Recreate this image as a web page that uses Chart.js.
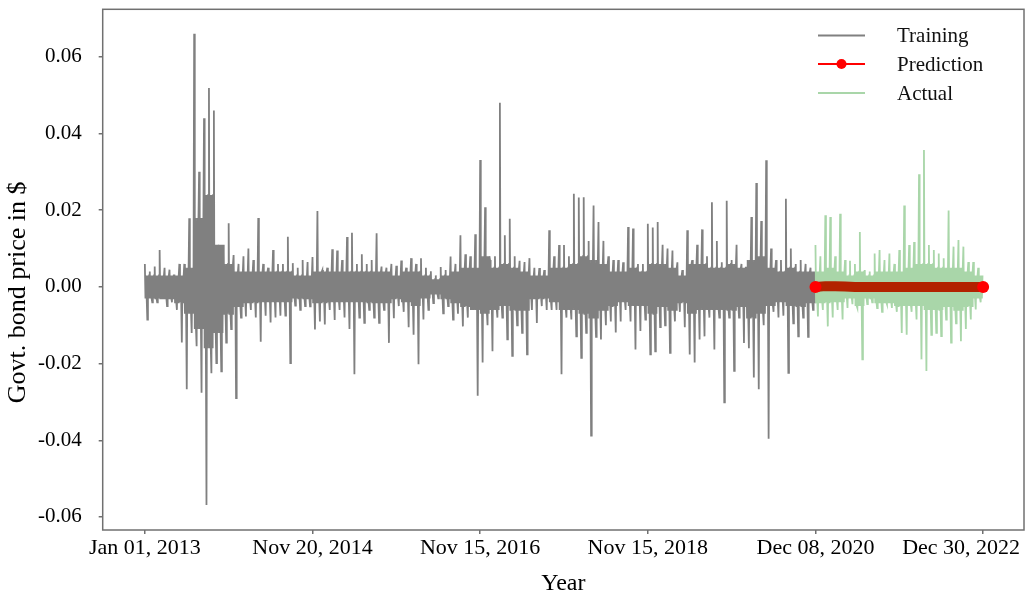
<!DOCTYPE html>
<html><head><meta charset="utf-8">
<script src="https://cdn.jsdelivr.net/npm/chart.js@4/dist/chart.umd.min.js"></script>
<style>html,body{margin:0;padding:0;background:#fff}#wrap{position:relative;width:1030px;height:599px}</style>
</head><body><div id="wrap"><canvas id="c"></canvas></div>
<script>
// ---- data ----
const xTickValues = [0, 500, 1000, 1500, 2000, 2500];
const xTickLabels = ["Jan 01, 2013", "Nov 20, 2014", "Nov 15, 2016", "Nov 15, 2018", "Dec 08, 2020", "Dec 30, 2022"];
const yTickValues = [-0.06, -0.04, -0.02, 0, 0.02, 0.04, 0.06];
const seriesNames = ["Training", "Prediction", "Actual"];

// upper / lower extent of the training series, column by column (Jan 2013 -> Dec 2020)
const trainHigh = [
 0.006,0.004, 0.0053,0.0096, 0.005,0.0045, 0.003,0.006, 0.006,0.0179, 0.066,0.030,
 0.044,0.0519, 0.046,0.0096, 0.009,0.0166, 0.0083,0.006, 0.008,0.010, 0.007,0.018,
 0.006,0.005, 0.0096,0.006, 0.006,0.0131, 0.0062,0.005, 0.007,0.0065, 0.0078,0.0198,
 0.0044,0.005, 0.0098,0.0095, 0.007,0.013, 0.0141,0.006, 0.0085,0.006, 0.007,0.014,
 0.0053,0.005, 0.006,0.0055, 0.0069,0.005, 0.0075,0.006, 0.0075,0.005, 0.0041,0.003,
 0.0052,0.0044, 0.0079,0.006, 0.0135,0.0085, 0.008,0.0137, 0.0331,0.0208, 0.007,0.008,
 0.048,0.0135, 0.0178,0.008, 0.0068,0.0065, 0.0075,0.005, 0.0049,0.0044, 0.0148,0.008,
 0.0109,0.0109, 0.008,0.0243, 0.0233,0.0234, 0.012,0.0212, 0.0169,0.012, 0.008,0.007,
 0.007,0.0064, 0.0156,0.0152, 0.006,0.006, 0.0165,0.0155, 0.0169,0.011, 0.010,0.0095,
 0.0064,0.0044, 0.0148,0.007, 0.011,0.015, 0.008,0.0221, 0.012,0.0064, 0.0225,0.007,
 0.011,0.006, 0.005,0.0182, 0.0271,0.0172, 0.033,0.010, 0.007,0.007, 0.023,0.010,
 0.006,0.007, 0.006,0.005
];
const trainLow = [
 -0.0085,-0.004, -0.004,-0.003, -0.005,-0.004, -0.006,-0.0145, -0.0267,-0.012, -0.0155,-0.0276,
 -0.0569,-0.0225, -0.0199,-0.022, -0.0145,-0.011, -0.029,-0.008, -0.0077,-0.006, -0.008,-0.0143,
 -0.0075,-0.0093, -0.008,-0.0075, -0.0075,-0.0199, -0.0049,-0.006, -0.005,-0.0051, -0.0111,-0.009,
 -0.0098,-0.006, -0.0086,-0.006, -0.008,-0.011, -0.0228,-0.008, -0.0094,-0.006, -0.008,-0.0094,
 -0.006,-0.0146, -0.0082,-0.005, -0.0065,-0.0105, -0.0125,-0.0202, -0.0085,-0.006, -0.0042,-0.003,
 -0.0069,-0.005, -0.0085,-0.007, -0.0103,-0.008, -0.006,-0.0284, -0.0197,-0.010, -0.0168,-0.008,
 -0.008,-0.0137, -0.018,-0.010, -0.012,-0.0176, -0.006,-0.0094, -0.005,-0.006, -0.006,-0.006,
 -0.0228,-0.008, -0.0085,-0.0129, -0.0185,-0.012, -0.0388,-0.013, -0.0137,-0.010, -0.009,-0.0119,
 -0.009,-0.006, -0.009,-0.0163, -0.0115,-0.0085, -0.0176,-0.0168, -0.0105,-0.010, -0.0172,-0.009,
 -0.0065,-0.0105, -0.0176,-0.0197, -0.0137,-0.0129, -0.008,-0.0163, -0.008,-0.0301, -0.008,-0.0219,
 -0.008,-0.0146, -0.016,-0.0236, -0.0267,-0.010, -0.0396,-0.0065, -0.008,-0.0075, -0.0224,-0.0095,
 -0.0129,-0.008, -0.013,-0.006
];
// upper / lower edge of the dense core of the training band, one value per pair of columns
const trainCoreUp = [
 0.003, 0.003, 0.003, 0.003, 0.005, 0.018, 0.024, 0.011, 0.006, 0.004,
 0.004, 0.004, 0.004, 0.004, 0.004, 0.003, 0.003, 0.004, 0.004, 0.004,
 0.004, 0.004, 0.004, 0.004, 0.004, 0.003, 0.004, 0.004, 0.003, 0.002,
 0.003, 0.004, 0.005, 0.005, 0.008, 0.005, 0.006, 0.005, 0.004, 0.003,
 0.003, 0.005, 0.005, 0.006, 0.008, 0.007, 0.006, 0.004, 0.004, 0.005,
 0.004, 0.006, 0.006, 0.005, 0.003, 0.006, 0.006, 0.005, 0.005, 0.006,
 0.005, 0.007, 0.008, 0.005, 0.004, 0.005, 0.004, 0.004
];
const trainCoreDown = [
 0.003, 0.003, 0.003, 0.004, 0.007, 0.011, 0.016, 0.012, 0.007, 0.005,
 0.004, 0.004, 0.004, 0.004, 0.004, 0.003, 0.003, 0.004, 0.004, 0.004,
 0.004, 0.004, 0.004, 0.004, 0.004, 0.003, 0.004, 0.005, 0.003, 0.002,
 0.003, 0.004, 0.005, 0.006, 0.007, 0.006, 0.005, 0.006, 0.006, 0.003,
 0.003, 0.004, 0.006, 0.006, 0.007, 0.008, 0.006, 0.005, 0.004, 0.005,
 0.005, 0.007, 0.005, 0.006, 0.004, 0.007, 0.006, 0.006, 0.006, 0.006,
 0.005, 0.008, 0.007, 0.005, 0.004, 0.005, 0.005, 0.004
];
// upper / lower extent of the actual (test) series (Dec 2020 -> Dec 2022)
const actualHigh = [
 0.0109,0.008, 0.0187,0.0182, 0.008,0.0191, 0.007,0.0068, 0.006,0.0143, 0.0044,0.004,
 0.0087,0.0096, 0.007,0.0087, 0.006,0.0096, 0.0212,0.0109, 0.0117,0.0294, 0.0357,0.0109,
 0.0096,0.0087, 0.0075,0.0199, 0.0105,0.0122, 0.0105,0.0065, 0.0065,0.005
];
const actualLow = [
 -0.0077,-0.006, -0.0103,-0.008, -0.006,-0.0085, -0.0055,-0.0045, -0.0055,-0.0189, -0.0045,-0.004,
 -0.0055,-0.0065, -0.0045,-0.0055, -0.0065,-0.012, -0.0125,-0.0065, -0.0085,-0.0189, -0.0219,-0.0125,
 -0.012,-0.0128, -0.0085,-0.0145, -0.0095,-0.0142, -0.011,-0.0085, -0.0059,-0.004
];
const actualCoreUp = [0.004, 0.005, 0.004, 0.003, 0.004, 0.003, 0.004, 0.004, 0.004,
                      0.005, 0.006, 0.006, 0.005, 0.005, 0.005, 0.004, 0.003];
const actualCoreDown = [0.004, 0.004, 0.004, 0.003, 0.005, 0.003, 0.004, 0.004, 0.005,
                        0.005, 0.005, 0.006, 0.006, 0.005, 0.006, 0.005, 0.003];
// model prediction over the test period
const prediction = [0.0000, 0.0002, 0.0002, 0.0001, 0.0000, 0.0000, 0.0000, 0.0000, 0.0000,
                    0.0000, 0.0000, 0.0000, 0.0000, 0.0000, 0.0000, 0.0000, 0.0000, 0.0000];
const trainStart = 0, trainEnd = 2000, testEnd = 2500;

// ---- build library tables ----
function band(high, low, coreUp, coreDown, x0, x1) {
  const step = (x1 - x0) / high.length, per = high.length / coreUp.length, pts = [];
  for (let i = 0; i < high.length; i++) {
    const r = Math.floor(i / per), u = coreUp[r], d = -coreDown[r], x = x0 + i * step;
    const seq = [high[i], d, u, d, low[i], u, d, u];
    seq.forEach((y, j) => pts.push({x: x + step * j / seq.length, y: y}));
  }
  return pts;
}
const trainPts = band(trainHigh, trainLow, trainCoreUp, trainCoreDown, trainStart, trainEnd);
const actualPts = band(actualHigh, actualLow, actualCoreUp, actualCoreDown, trainEnd, testEnd);
const predPts = prediction.map((v, i) => ({x: trainEnd + i * (testEnd - trainEnd) / (prediction.length - 1), y: v}));

const FONT = "'Liberation Serif', 'Times New Roman', serif";
const COL_TRAIN = '#808080', COL_PRED = '#b22200', COL_PRED_PT = '#ff0000', COL_ACT = '#a9d6a9';
const NB = '\u00a0';

const framePlugin = {
  id: 'frame',
  afterDraw(chart) {
    const {ctx, chartArea: a} = chart;
    ctx.save();
    ctx.strokeStyle = '#707070'; ctx.lineWidth = 1.5;
    ctx.strokeRect(a.left, a.top, a.right - a.left, a.bottom - a.top);
    // legend
    const rows = [
      {label: seriesNames[0], color: COL_TRAIN, y: 35.5, dot: false},
      {label: seriesNames[1], color: COL_PRED_PT, y: 64, dot: true},
      {label: seriesNames[2], color: COL_ACT, y: 93, dot: false}
    ];
    ctx.font = "21px " + FONT;
    ctx.textBaseline = 'middle'; ctx.textAlign = 'left';
    rows.forEach(r => {
      ctx.strokeStyle = r.color; ctx.lineWidth = 2;
      ctx.beginPath(); ctx.moveTo(818, r.y); ctx.lineTo(865, r.y); ctx.stroke();
      if (r.dot) { ctx.fillStyle = r.color; ctx.beginPath(); ctx.arc(841.5, r.y, 5, 0, Math.PI * 2); ctx.fill(); }
      ctx.fillStyle = '#111';
      ctx.fillText(r.label, 897, r.y + 1);
    });
    ctx.restore();
  }
};

new Chart(document.getElementById('c'), {
  type: 'line',
  data: {
    datasets: [
      {label: seriesNames[0], data: trainPts, order: 2, borderColor: COL_TRAIN, borderWidth: 1.8, pointRadius: 0, tension: 0},
      {label: seriesNames[2], data: actualPts, order: 1, borderColor: COL_ACT, borderWidth: 1.8, pointRadius: 0, tension: 0},
      {label: seriesNames[1], data: predPts, order: 0, borderColor: COL_PRED, borderWidth: 10, borderCapStyle: 'round',
       pointRadius: c => (c.dataIndex === 0 || c.dataIndex === prediction.length - 1) ? 6 : 0,
       pointBackgroundColor: COL_PRED_PT, pointBorderWidth: 0, tension: 0}
    ]
  },
  options: {
    responsive: true, maintainAspectRatio: false, animation: false,
    layout: {padding: {top: 9.3, right: 3, left: 0, bottom: 0}},
    plugins: {legend: {display: false}, tooltip: {enabled: false}},
    scales: {
      x: {
        type: 'linear', min: -125.7, max: 2621.9,
        afterBuildTicks: s => { s.ticks = xTickValues.map(v => ({value: v})); },
        afterFit: s => { s.height = 69; s.paddingLeft = 0; s.paddingRight = 0; },
        ticks: {
          autoSkip: false, maxRotation: 0, padding: 1, color: '#000',
          font: {family: FONT, size: 22},
          callback: v => { const i = xTickValues.indexOf(v); if (i < 0) return ''; return i === xTickLabels.length - 1 ? xTickLabels[i] + NB.repeat(8) : xTickLabels[i]; }
        },
        grid: {display: true, drawOnChartArea: false, tickLength: 4, color: '#707070', lineWidth: 1.5},
        border: {display: false},
        title: {display: true, text: 'Year', color: '#000', font: {family: FONT, size: 24}, padding: {top: 0, bottom: 1}}
      },
      y: {
        min: -0.0634, max: 0.0724,
        afterBuildTicks: s => { s.ticks = yTickValues.map(v => ({value: v})); },
        afterFit: s => { s.width = 102.7; s.paddingTop = 0; s.paddingBottom = 0; },
        ticks: {padding: 17, color: '#000', font: {family: FONT, size: 21}, callback: v => v.toFixed(2)},
        grid: {display: true, drawOnChartArea: false, tickLength: 4, color: '#707070', lineWidth: 1.5},
        border: {display: false},
        title: {display: true, text: 'Govt. bond price in $' + NB.repeat(7), color: '#000', font: {family: FONT, size: 26}, padding: {top: 3, bottom: 0}}
      }
    }
  },
  plugins: [framePlugin]
});
</script></body></html>
